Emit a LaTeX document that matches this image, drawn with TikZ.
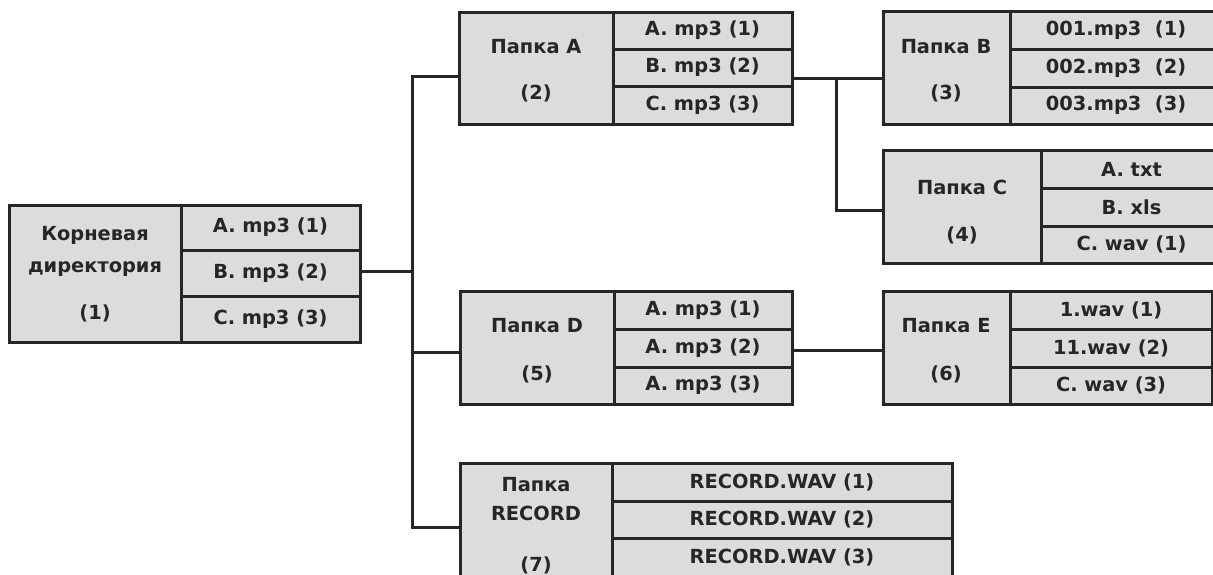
\documentclass[tikz,border=0pt]{standalone}
\usepackage{fontspec}
\setmainfont{DejaVu Sans}
\usetikzlibrary{fit}
\definecolor{boxfill}{HTML}{DCDCDC}
\definecolor{ink}{HTML}{262626}
\tikzset{
  cell/.style={draw=ink, fill=boxfill, line width=1.5pt, inner sep=0pt},
  lbl/.style={font=\bfseries\fontsize{9.7}{11}\selectfont, text=ink, inner sep=0pt},
  txt/.style={label={[lbl]center:#1}},
  conn/.style={draw=ink, line width=1.5pt}
}
\begin{document}
\begin{tikzpicture}[x=0.5pt,y=-0.5pt]
\useasboundingbox (0,0) rectangle (1213,574);
\clip (0,0) rectangle (1213,574);
% Root
\node[cell, fit={(9,205)(181,342)}] (rootL) {};
\node[cell, fit={(181,205)(360,250)}, txt={A. mp3 (1)}] (roota) {};
\node[cell, fit={(181,250)(360,296)}, txt={B. mp3 (2)}] (rootb) {};
\node[cell, fit={(181,296)(360,342)}, txt={C. mp3 (3)}] (rootc) {};
\node[lbl] (rootT1) at (95,235) {Корневая};
\node[lbl] (rootT2) at (95,269) {директория};
\node[lbl] (rootT3) at (95,313) {(1)};
% Folder A
\node[cell, fit={(459,12)(613,124)}] (AL) {};
\node[cell, fit={(613,12)(792,49)}, txt={A. mp3 (1)}] (Aa) {};
\node[cell, fit={(613,49)(792,86)}, txt={B. mp3 (2)}] (Ab) {};
\node[cell, fit={(613,86)(792,124)}, txt={C. mp3 (3)}] (Ac) {};
\node[lbl] (AT1) at (536,47) {Папка A};
\node[lbl] (AT2) at (536,93) {(2)};
% Folder B
\node[cell, fit={(883,11)(1010,124)}] (BL) {};
\node[cell, fit={(1010,11)(1222,49)}, txt={001.mp3~~(1)}] (Ba) {};
\node[cell, fit={(1010,49)(1222,87)}, txt={002.mp3~~(2)}] (Bb) {};
\node[cell, fit={(1010,87)(1222,124)}, txt={003.mp3~~(3)}] (Bc) {};
\node[lbl] (BT1) at (946,47) {Папка B};
\node[lbl] (BT2) at (946,93) {(3)};
% Folder C
\node[cell, fit={(883,150)(1041,263)}] (CL) {};
\node[cell, fit={(1041,150)(1222,188)}, txt={A. txt}] (Ca) {};
\node[cell, fit={(1041,188)(1222,226)}, txt={B. xls}] (Cb) {};
\node[cell, fit={(1041,226)(1222,263)}, txt={C. wav (1)}] (Cc) {};
\node[lbl] (CT1) at (962,187) {Папка C};
\node[lbl] (CT2) at (962,235) {(4)};
% Folder D
\node[cell, fit={(460,291)(614,404)}] (DL) {};
\node[cell, fit={(614,291)(792,329)}, txt={A. mp3 (1)}] (Da) {};
\node[cell, fit={(614,329)(792,367)}, txt={A. mp3 (2)}] (Db) {};
\node[cell, fit={(614,367)(792,404)}, txt={A. mp3 (3)}] (Dc) {};
\node[lbl] (DT1) at (537,326) {Папка D};
\node[lbl] (DT2) at (537,374) {(5)};
% Folder E
\node[cell, fit={(883,291)(1010,404)}] (EL) {};
\node[cell, fit={(1010,291)(1212,329)}, txt={1.wav (1)}] (Ea) {};
\node[cell, fit={(1010,329)(1212,367)}, txt={11.wav (2)}] (Eb) {};
\node[cell, fit={(1010,367)(1212,404)}, txt={C. wav (3)}] (Ec) {};
\node[lbl] (ET1) at (946,326) {Папка E};
\node[lbl] (ET2) at (946,374) {(6)};
% Folder RECORD
\node[cell, fit={(460,463)(612,576)}] (RL) {};
\node[cell, fit={(612,463)(952,501)}, txt={RECORD.WAV (1)}] (Ra) {};
\node[cell, fit={(612,501)(952,538)}, txt={RECORD.WAV (2)}] (Rb) {};
\node[cell, fit={(612,538)(952,576)}, txt={RECORD.WAV (3)}] (Rc) {};
\node[lbl] (RT1) at (536,485) {Папка};
\node[lbl] (RT2) at (536,513) {RECORD};
\node[lbl] (RT3) at (536,565) {(7)};
% connectors
\coordinate (s0) at (412,271);
\coordinate (sTop) at (412,76);
\coordinate (sD) at (412,352);
\coordinate (sBot) at (412,527);
\coordinate (j1) at (836,78);
\coordinate (j2) at (836,210);
\coordinate (j3) at (838,350);
\draw[conn] (rootb.east |- s0) -- (s0);
\draw[conn] (sTop -| AL.west) -- (sTop) -- (sBot) -- (sBot -| RL.west);
\draw[conn] (sD) -- (sD -| DL.west);
\draw[conn] (Ab.east |- j1) -- (j1 -| BL.west);
\draw[conn] (j1) -- (j2) -- (j2 -| CL.west);
\draw[conn] (Db.east |- j3) -- (j3 -| EL.west);
\end{tikzpicture}
\end{document}
